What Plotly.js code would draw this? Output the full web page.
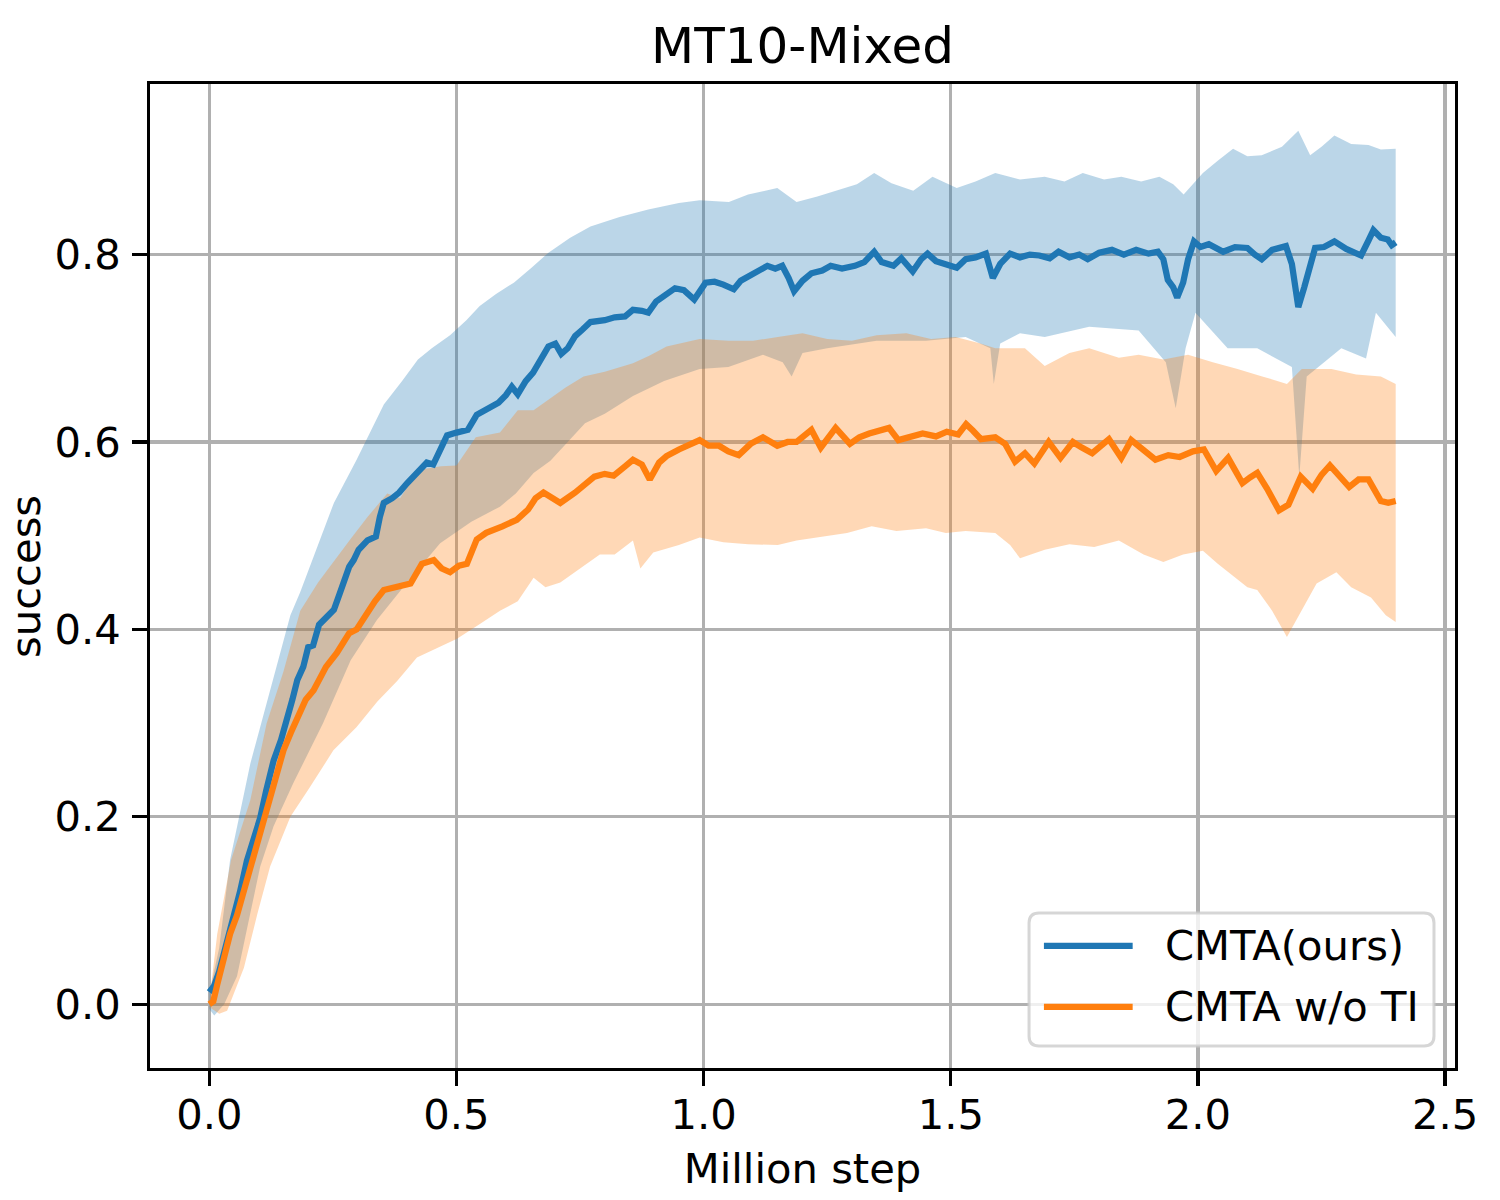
<!DOCTYPE html>
<html>
<head>
<meta charset="utf-8">
<script src="https://cdn.plot.ly/plotly-3.0.1.min.js"></script>
<style>
  body { margin: 0; background: #fff; }
  #graf { width: 1500px; height: 1200px; }
</style>
</head>
<body>
<div id="graf"></div>
<script>
// values (Million step, success)
var blueMeanX = [0,0.01,0.02,0.03,0.049,0.062,0.076,0.09,0.103,0.115,
  0.13,0.145,0.157,0.168,0.178,0.19,0.2,0.21,0.222,0.235,
  0.252,0.265,0.283,0.292,0.302,0.32,0.337,0.345,0.353,0.37,
  0.384,0.4,0.422,0.44,0.453,0.47,0.481,0.5,0.523,0.541,
  0.56,0.585,0.6,0.612,0.624,0.64,0.655,0.67,0.686,0.7,
  0.712,0.725,0.74,0.755,0.771,0.8,0.82,0.841,0.857,0.875,
  0.888,0.904,0.919,0.942,0.96,0.981,1.004,1.022,1.04,1.061,
  1.075,1.09,1.11,1.129,1.145,1.159,1.172,1.183,1.2,1.218,
  1.24,1.257,1.28,1.306,1.325,1.345,1.36,1.384,1.4,1.423,
  1.44,1.453,1.47,1.49,1.512,1.53,1.55,1.571,1.578,1.585,
  1.6,1.62,1.64,1.66,1.679,1.7,1.718,1.74,1.76,1.777,
  1.8,1.826,1.85,1.875,1.9,1.919,1.93,1.939,1.95,1.958,
  1.97,1.98,1.992,2.005,2.022,2.04,2.051,2.075,2.1,2.115,
  2.129,2.15,2.178,2.19,2.203,2.215,2.237,2.255,2.276,2.3,
  2.33,2.345,2.355,2.37,2.384,2.392,2.4];
var blueMeanY = [0.013,0.02,0.035,0.055,0.089,0.12,0.153,0.175,0.199,0.228,
  0.26,0.282,0.303,0.325,0.346,0.36,0.381,0.383,0.405,0.413,
  0.421,0.44,0.467,0.474,0.485,0.495,0.499,0.52,0.535,0.54,
  0.546,0.556,0.567,0.578,0.576,0.595,0.607,0.61,0.613,0.629,
  0.635,0.642,0.65,0.659,0.651,0.665,0.674,0.688,0.702,0.705,
  0.694,0.7,0.713,0.72,0.728,0.73,0.733,0.734,0.741,0.74,
  0.738,0.75,0.756,0.764,0.762,0.752,0.77,0.771,0.768,0.763,
  0.772,0.776,0.782,0.788,0.785,0.788,0.775,0.761,0.772,0.78,
  0.783,0.788,0.785,0.788,0.792,0.803,0.792,0.788,0.796,0.782,
  0.795,0.801,0.793,0.79,0.786,0.795,0.797,0.801,0.79,0.775,
  0.79,0.801,0.797,0.8,0.799,0.796,0.803,0.797,0.8,0.795,
  0.802,0.805,0.8,0.805,0.801,0.803,0.795,0.773,0.765,0.754,
  0.77,0.795,0.814,0.808,0.811,0.805,0.803,0.808,0.807,0.8,
  0.795,0.805,0.809,0.79,0.744,0.765,0.807,0.808,0.814,0.806,
  0.799,0.815,0.826,0.818,0.816,0.81,0.813];

var blueUpX = [0,0.02,0.042,0.062,0.083,0.103,0.123,0.143,0.164,0.184,
  0.213,0.252,0.298,0.353,0.39,0.422,0.45,0.487,0.52,0.547,
  0.58,0.616,0.65,0.686,0.73,0.771,0.83,0.888,0.95,0.992,
  1.051,1.09,1.149,1.188,1.23,1.267,1.31,1.345,1.38,1.424,
  1.463,1.512,1.55,1.59,1.64,1.69,1.73,1.767,1.81,1.845,
  1.885,1.922,1.95,1.971,2.01,2.04,2.071,2.1,2.129,2.17,
  2.203,2.227,2.25,2.276,2.31,2.345,2.37,2.4];
var blueUpY = [0.012,0.06,0.154,0.204,0.257,0.296,0.335,0.375,0.415,0.44,
  0.48,0.535,0.581,0.64,0.665,0.688,0.7,0.714,0.73,0.745,
  0.758,0.77,0.785,0.802,0.818,0.83,0.84,0.848,0.855,0.858,
  0.856,0.864,0.871,0.856,0.862,0.868,0.875,0.887,0.876,0.868,
  0.883,0.871,0.878,0.887,0.88,0.883,0.878,0.887,0.88,0.883,
  0.878,0.883,0.875,0.864,0.887,0.9,0.913,0.905,0.906,0.915,
  0.932,0.906,0.915,0.927,0.918,0.917,0.912,0.913];

var blueLowX = [0,0.01,0.03,0.056,0.08,0.103,0.13,0.17,0.23,0.286,
  0.339,0.4,0.467,0.53,0.588,0.62,0.656,0.69,0.723,0.76,
  0.8,0.857,0.92,0.992,1.05,1.12,1.16,1.178,1.2,1.25,
  1.35,1.45,1.53,1.58,1.587,1.6,1.64,1.69,1.78,1.88,
  1.935,1.955,1.975,1.995,2.06,2.12,2.19,2.205,2.22,2.29,
  2.34,2.36,2.4];
var blueLowY = [-0.005,-0.012,0,0.03,0.09,0.147,0.19,0.236,0.3,0.367,
  0.41,0.45,0.492,0.515,0.531,0.545,0.567,0.58,0.599,0.62,
  0.63,0.649,0.665,0.678,0.68,0.693,0.685,0.67,0.695,0.7,
  0.708,0.708,0.712,0.7,0.662,0.705,0.716,0.712,0.723,0.719,
  0.685,0.636,0.7,0.738,0.7,0.7,0.68,0.563,0.67,0.7,
  0.689,0.738,0.712];

var orangeMeanX = [0,0.008,0.016,0.03,0.042,0.056,0.07,0.09,0.103,0.116,
  0.133,0.15,0.165,0.177,0.195,0.211,0.236,0.258,0.283,0.298,
  0.314,0.335,0.353,0.38,0.407,0.43,0.454,0.47,0.487,0.505,
  0.521,0.541,0.56,0.593,0.622,0.645,0.66,0.676,0.693,0.71,
  0.74,0.757,0.779,0.8,0.818,0.841,0.857,0.875,0.891,0.91,
  0.925,0.95,0.97,0.992,1.01,1.031,1.05,1.071,1.095,1.12,
  1.149,1.17,1.188,1.218,1.237,1.267,1.296,1.315,1.335,1.375,
  1.394,1.42,1.443,1.47,1.492,1.515,1.531,1.545,1.561,1.59,
  1.61,1.63,1.65,1.669,1.698,1.722,1.747,1.765,1.786,1.82,
  1.845,1.865,1.89,1.914,1.94,1.963,1.99,2.012,2.037,2.061,
  2.075,2.09,2.105,2.12,2.14,2.164,2.183,2.208,2.232,2.25,
  2.267,2.285,2.306,2.325,2.345,2.37,2.385,2.4];
var orangeMeanY = [0,0.003,0.021,0.05,0.075,0.095,0.121,0.16,0.185,0.21,
  0.24,0.271,0.29,0.303,0.325,0.335,0.36,0.375,0.396,0.4,
  0.414,0.43,0.442,0.445,0.449,0.47,0.474,0.465,0.461,0.468,
  0.47,0.496,0.503,0.51,0.517,0.528,0.54,0.546,0.54,0.535,
  0.546,0.553,0.563,0.566,0.564,0.574,0.581,0.576,0.56,0.578,
  0.585,0.592,0.596,0.602,0.596,0.596,0.59,0.586,0.598,0.605,
  0.596,0.6,0.6,0.613,0.594,0.615,0.598,0.605,0.609,0.615,
  0.602,0.606,0.609,0.606,0.611,0.608,0.619,0.612,0.603,0.605,
  0.598,0.579,0.588,0.577,0.6,0.583,0.6,0.594,0.588,0.603,
  0.583,0.602,0.592,0.581,0.586,0.584,0.59,0.592,0.569,0.583,
  0.57,0.556,0.562,0.567,0.55,0.527,0.533,0.563,0.55,0.565,
  0.575,0.565,0.552,0.56,0.56,0.537,0.535,0.537];

var orangeUpX = [0,0.016,0.044,0.083,0.116,0.15,0.184,0.22,0.285,0.32,
  0.36,0.386,0.422,0.469,0.5,0.539,0.588,0.624,0.656,0.686,
  0.72,0.757,0.8,0.857,0.89,0.925,0.992,1.05,1.1,1.15,
  1.2,1.25,1.3,1.35,1.41,1.46,1.51,1.56,1.59,1.65,
  1.69,1.74,1.78,1.84,1.88,1.93,1.98,2.03,2.08,2.13,
  2.18,2.21,2.27,2.32,2.37,2.4];
var orangeUpY = [0.003,0.075,0.154,0.218,0.3,0.355,0.42,0.45,0.496,0.52,
  0.545,0.54,0.57,0.574,0.575,0.605,0.61,0.634,0.634,0.645,
  0.658,0.67,0.675,0.684,0.692,0.702,0.71,0.708,0.708,0.712,
  0.716,0.71,0.708,0.714,0.716,0.71,0.712,0.705,0.7,0.7,
  0.681,0.695,0.7,0.69,0.693,0.688,0.693,0.685,0.678,0.67,
  0.662,0.678,0.678,0.672,0.67,0.662];

var orangeLowX = [0,0.02,0.036,0.05,0.07,0.097,0.123,0.164,0.204,0.251,
  0.298,0.34,0.38,0.42,0.46,0.501,0.545,0.588,0.624,0.656,
  0.68,0.71,0.75,0.79,0.82,0.857,0.872,0.898,0.95,0.992,
  1.04,1.09,1.15,1.188,1.25,1.29,1.34,1.39,1.45,1.49,
  1.53,1.59,1.62,1.64,1.69,1.74,1.79,1.84,1.89,1.93,
  1.97,2.01,2.04,2.07,2.1,2.12,2.15,2.18,2.2,2.24,
  2.28,2.31,2.35,2.38,2.4];
var orangeLowY = [-0.003,-0.01,-0.007,0.012,0.039,0.096,0.147,0.2,0.232,0.271,
  0.296,0.323,0.345,0.37,0.38,0.39,0.405,0.42,0.43,0.455,
  0.445,0.45,0.465,0.48,0.48,0.495,0.465,0.482,0.49,0.498,
  0.493,0.491,0.49,0.495,0.5,0.503,0.51,0.505,0.508,0.503,
  0.505,0.503,0.49,0.476,0.485,0.491,0.488,0.495,0.48,0.472,
  0.48,0.484,0.47,0.457,0.445,0.442,0.42,0.392,0.41,0.449,
  0.461,0.445,0.434,0.415,0.408];

var xTicks = [0, 0.5, 1.0, 1.5, 2.0, 2.5];
var yTicks = [0, 0.2, 0.4, 0.6, 0.8];
var nazvy = ['CMTA(ours)', 'CMTA w/o TI'];

var modra = '#1f77b4';
var oranzova = '#ff7f0e';
var pismo = 'DejaVu Sans, Liberation Sans, sans-serif';
var velkost = 41.7;

// uzavrety polygon z hornej a dolnej hranice
function pas(xu, yu, xl, yl) {
    return {
        x: xu.concat(xl.slice().reverse()),
        y: yu.concat(yl.slice().reverse())
    };
}

var pasModry = pas(blueUpX, blueUpY, blueLowX, blueLowY);
var pasOranz = pas(orangeUpX, orangeUpY, orangeLowX, orangeLowY);

var trace1 = {
    x: pasModry.x, y: pasModry.y, type: 'scatter', mode: 'lines',
    fill: 'toself', fillcolor: 'rgba(31,119,180,0.3)',
    line: {width: 0, color: 'rgba(0,0,0,0)'}, hoverinfo: 'skip', showlegend: false
};
var trace2 = {
    x: pasOranz.x, y: pasOranz.y, type: 'scatter', mode: 'lines',
    fill: 'toself', fillcolor: 'rgba(255,127,14,0.3)',
    line: {width: 0, color: 'rgba(0,0,0,0)'}, hoverinfo: 'skip', showlegend: false
};
var trace3 = {
    x: blueMeanX, y: blueMeanY, type: 'scatter', mode: 'lines', name: nazvy[0],
    line: {color: modra, width: 6.25}, showlegend: false
};
var trace4 = {
    x: orangeMeanX, y: orangeMeanY, type: 'scatter', mode: 'lines', name: nazvy[1],
    line: {color: oranzova, width: 6.25}, showlegend: false
};

// legenda ako v matplotlibe (zaoblene pole, dlhsie ciary)
var lx0 = 0.6736, lx1 = 0.9839, ly0 = 0.0224, ly1 = 0.1575;
var rx = 10 / 1305, ry = 10 / 984;
var ramik = 'M' + (lx0 + rx) + ',' + ly0 + ' L' + (lx1 - rx) + ',' + ly0 +
    ' Q' + lx1 + ',' + ly0 + ' ' + lx1 + ',' + (ly0 + ry) +
    ' L' + lx1 + ',' + (ly1 - ry) +
    ' Q' + lx1 + ',' + ly1 + ' ' + (lx1 - rx) + ',' + ly1 +
    ' L' + (lx0 + rx) + ',' + ly1 +
    ' Q' + lx0 + ',' + ly1 + ' ' + lx0 + ',' + (ly1 - ry) +
    ' L' + lx0 + ',' + (ly0 + ry) +
    ' Q' + lx0 + ',' + ly0 + ' ' + (lx0 + rx) + ',' + ly0 + ' Z';

var riadky = [0.124, 0.062];
var farby = [modra, oranzova];

var tvary = [{
    type: 'path', xref: 'paper', yref: 'paper', path: ramik,
    fillcolor: 'rgba(255,255,255,0.8)', line: {color: 'rgba(204,204,204,0.8)', width: 3}
}];
var popisy = [];
for (var i = 0; i < 2; i++) {
    tvary.push({
        type: 'line', xref: 'paper', yref: 'paper',
        x0: 0.685, x1: 0.753, y0: riadky[i], y1: riadky[i],
        line: {color: farby[i], width: 6.25}
    });
    popisy.push({
        xref: 'paper', yref: 'paper', x: 0.776, y: riadky[i],
        xanchor: 'left', yanchor: 'middle', showarrow: false,
        text: nazvy[i], font: {family: pismo, size: velkost, color: 'black'}
    });
}
// popis osi y ako anotacia, aby sa dal posunut viac dolava
popisy.push({
    xref: 'paper', yref: 'paper', x: -0.0958, y: 0.5,
    xanchor: 'center', yanchor: 'middle', showarrow: false, textangle: -90,
    text: 'success', font: {family: pismo, size: velkost, color: 'black'}
});

var osa = {
    showgrid: true, gridcolor: '#b0b0b0', gridwidth: 3.3,
    showline: true, linecolor: 'black', linewidth: 3.3, mirror: true,
    ticks: 'outside', ticklen: 14.6, tickwidth: 3.3, tickcolor: 'black',
    zeroline: false, tickformat: '.1f',
    tickfont: {family: pismo, size: velkost, color: 'black'}
};

var layout = {
    width: 1500, height: 1200,
    margin: {l: 150, r: 45, t: 84, b: 132},
    paper_bgcolor: 'white', plot_bgcolor: 'white',
    font: {family: pismo, color: 'black'},
    title: {
        text: 'MT10-Mixed', font: {family: pismo, size: 50, color: 'black'},
        x: 0.5, xref: 'paper', y: 0.962, yref: 'container', yanchor: 'middle'
    },
    xaxis: Object.assign({}, osa, {
        range: [-0.12, 2.52], tickvals: xTicks, ticklabelstandoff: -7,
        title: {text: 'Million step', font: {family: pismo, size: velkost, color: 'black'}, standoff: 17}
    }),
    yaxis: Object.assign({}, osa, {
        range: [-0.068, 0.982], tickvals: yTicks, ticklabelstandoff: 3
    }),
    shapes: tvary,
    annotations: popisy,
    showlegend: false
};

Plotly.newPlot('graf', [trace1, trace2, trace3, trace4], layout, {staticPlot: true});
</script>
</body>
</html>
